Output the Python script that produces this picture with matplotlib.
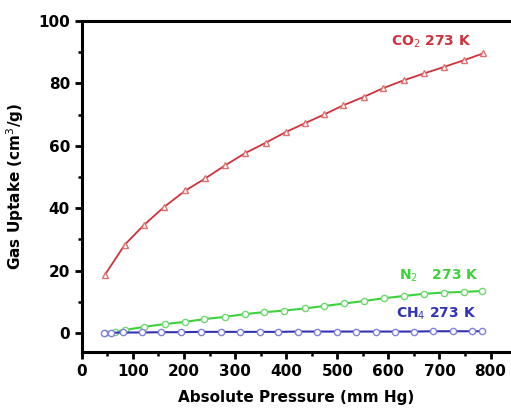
import numpy as np
import matplotlib
matplotlib.use("Agg")
import matplotlib.pyplot as plt
from matplotlib.ticker import MultipleLocator

# CO2 at 273 K
co2_p = [45, 84, 122, 161, 203, 242, 281, 319, 360, 399,
         436, 475, 512, 552, 590, 630, 670, 709, 749, 785]
co2_up = [18.6, 28.3, 34.7, 40.4, 45.7, 49.6, 53.8, 57.6, 61.0, 64.4,
          67.2, 70.1, 73.0, 75.7, 78.5, 81.0, 83.2, 85.3, 87.5, 89.6]

# N2 at 273 K
n2_p = [45, 65, 84, 122, 162, 202, 240, 280, 319, 356, 395,
        436, 475, 514, 553, 592, 631, 670, 709, 748, 784]
n2_up = [0.1, 0.5, 1.0, 2.0, 2.9, 3.6, 4.5, 5.2, 6.1, 6.7, 7.2,
         7.9, 8.7, 9.5, 10.3, 11.2, 11.9, 12.6, 13.0, 13.2, 13.5]

# CH4 at 273 K
ch4_p = [44, 57, 81, 118, 156, 194, 233, 272, 310, 348, 385,
         423, 460, 500, 537, 575, 613, 651, 688, 727, 763, 784]
ch4_up = [0.1, 0.1, 0.2, 0.2, 0.3, 0.3, 0.4, 0.4, 0.4, 0.4, 0.4,
          0.5, 0.5, 0.5, 0.5, 0.5, 0.5, 0.5, 0.6, 0.6, 0.6, 0.6]

red = "#d0323c"
green = "#3cd23c"
blue = "#3232b4"

fig = plt.figure(figsize=(5.11, 4.12), dpi=100)
ax = fig.add_axes([0.160, 0.146, 0.840, 0.803])

ax.plot(co2_p, co2_up, color=red, lw=1.3, marker="^", ms=5,
        mfc="white", mec="#e07070", mew=1.0)
ax.plot(n2_p, n2_up, color=green, lw=1.5, marker="o", ms=4.5,
        mfc="white", mec="#70d870", mew=1.0)
ax.plot(ch4_p, ch4_up, color=blue, lw=1.5, marker="o", ms=4.5,
        mfc="white", mec="#8080e0", mew=1.0)

ax.text(605, 92.0, r"CO$_2$ 273 K", color=red, fontsize=10, fontweight="bold")
ax.text(620, 17.0, r"N$_2$   273 K", color=green, fontsize=10, fontweight="bold")
ax.text(615, 5.0, r"CH$_4$ 273 K", color=blue, fontsize=10, fontweight="bold")

ax.set_xlim(0, 840)
ax.set_ylim(-6, 100)
ax.xaxis.set_major_locator(MultipleLocator(100))
ax.xaxis.set_minor_locator(MultipleLocator(50))
ax.yaxis.set_major_locator(MultipleLocator(20))
ax.yaxis.set_minor_locator(MultipleLocator(10))

ax.spines["right"].set_visible(False)
for s in ["left", "bottom", "top"]:
    ax.spines[s].set_linewidth(2.2)
ax.tick_params(which="major", direction="out", length=5, width=2,
               labelsize=11, top=False, right=False)
ax.tick_params(which="minor", direction="out", length=3, width=1.8,
               top=False, right=False)
for lab in ax.get_xticklabels() + ax.get_yticklabels():
    lab.set_fontweight("bold")

ax.set_xlabel("Absolute Pressure (mm Hg)", fontsize=11, fontweight="bold", labelpad=8)
ax.set_ylabel("Gas Uptake (cm$^3$/g)", fontsize=11, fontweight="bold", labelpad=9)

fig.savefig("out.png", dpi=100)
